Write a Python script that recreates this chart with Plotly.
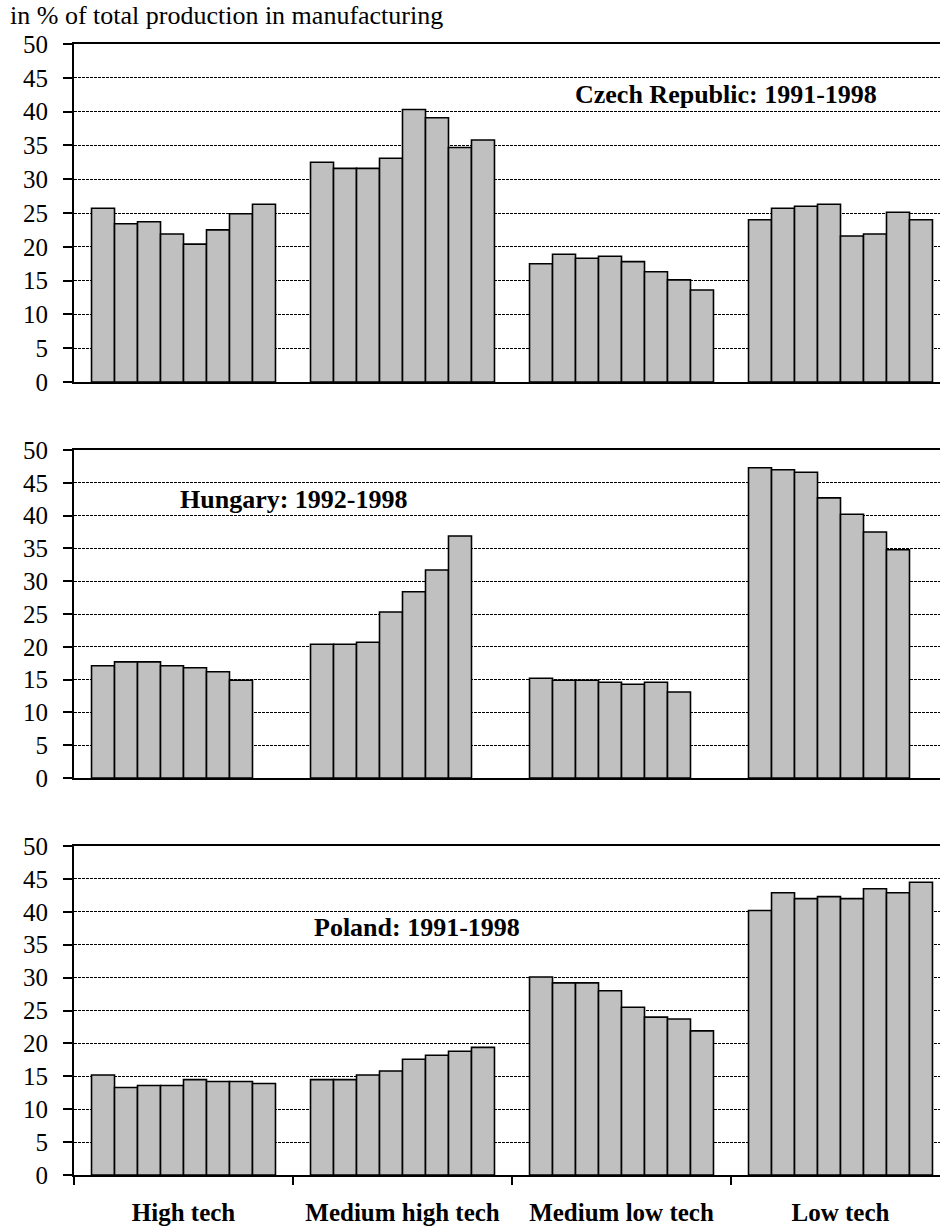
import plotly.graph_objects as go

categories = ["High tech", "Medium high tech", "Medium low tech", "Low tech"]

cz_years = [1991, 1992, 1993, 1994, 1995, 1996, 1997, 1998]
cz_high = [25.7, 23.4, 23.7, 21.9, 20.4, 22.5, 24.9, 26.3]
cz_mhigh = [32.5, 31.6, 31.6, 33.1, 40.3, 39.1, 34.7, 35.8]
cz_mlow = [17.5, 18.9, 18.3, 18.6, 17.8, 16.3, 15.1, 13.6]
cz_low = [24.0, 25.7, 26.0, 26.3, 21.6, 21.9, 25.1, 24.0]

hu_years = [1992, 1993, 1994, 1995, 1996, 1997, 1998]
hu_high = [17.1, 17.7, 17.7, 17.1, 16.8, 16.2, 14.9]
hu_mhigh = [20.4, 20.4, 20.7, 25.3, 28.4, 31.7, 36.9]
hu_mlow = [15.2, 14.9, 14.9, 14.6, 14.3, 14.6, 13.1]
hu_low = [47.3, 47.0, 46.6, 42.7, 40.2, 37.5, 34.8]

pl_years = [1991, 1992, 1993, 1994, 1995, 1996, 1997, 1998]
pl_high = [15.2, 13.3, 13.6, 13.6, 14.5, 14.2, 14.2, 13.9]
pl_mhigh = [14.5, 14.5, 15.2, 15.8, 17.6, 18.2, 18.8, 19.4]
pl_mlow = [30.1, 29.2, 29.2, 28.0, 25.5, 24.0, 23.7, 21.9]
pl_low = [40.2, 42.9, 42.0, 42.3, 42.0, 43.5, 42.9, 44.5]

panel_titles = ["Czech Republic: 1991-1998", "Hungary: 1992-1998", "Poland: 1991-1998"]
y_title = "in % of total production in manufacturing"

panels = [
    (cz_years, [cz_high, cz_mhigh, cz_mlow, cz_low]),
    (hu_years, [hu_high, hu_mhigh, hu_mlow, hu_low]),
    (pl_years, [pl_high, pl_mhigh, pl_mlow, pl_low]),
]

W, H = 940, 1227
FONT = "Liberation Serif, Times New Roman, serif"
BAR_W = 0.105
BAR_START = -0.42

# plot-area pixel extents (top of 50, bottom at 0) for each panel
panel_px = [(44, 382), (450, 778), (846, 1175)]
label_pos = [(2.477, 42.6), (0.505, 42.4), (1.066, 37.6)]

fig = go.Figure()
for p, (years, series) in enumerate(panels):
    ax = "" if p == 0 else str(p + 1)
    for j, yr in enumerate(years):
        fig.add_trace(go.Bar(
            x=categories,
            y=[s[j] for s in series],
            name=str(yr),
            width=BAR_W,
            offset=BAR_START + j * BAR_W,
            marker=dict(color="#C0C0C0", line=dict(color="black", width=1.6)),
            xaxis="x" + ax, yaxis="y" + ax,
            showlegend=False,
        ))

x0 = 74 / W
xr = [-0.5, -0.5 + (W - 74) / 219.0]
layout = dict(
    width=W, height=H,
    margin=dict(l=0, r=0, t=0, b=0),
    paper_bgcolor="white", plot_bgcolor="white",
    barmode="overlay",
    font=dict(family=FONT, color="black"),
    showlegend=False,
)
annotations = []
for p in range(3):
    ax = "" if p == 0 else str(p + 1)
    top, bot = panel_px[p]
    last = p == 2
    layout["xaxis" + ax] = dict(
        domain=[x0, 1], anchor="y" + ax, range=xr, type="category",
        showline=True, linecolor="black", linewidth=2, mirror=True,
        showgrid=False, zeroline=False,
        ticks="outside" if last else "", tickson="boundaries",
        ticklen=8, tickwidth=1.5, tickcolor="black",
        showticklabels=last,
        tickfont=dict(family=FONT, size=25, color="black", weight="bold"),
        ticklabelstandoff=14, automargin=False,
    )
    layout["yaxis" + ax] = dict(
        domain=[1 - bot / H, 1 - top / H], anchor="x" + ax,
        range=[0, 50], dtick=5, tick0=0,
        showline=True, linecolor="black", linewidth=2,
        ticks="outside", ticklen=9, tickwidth=1.5, tickcolor="black",
        tickfont=dict(family=FONT, size=25, color="black"),
        ticklabelstandoff=10,
        showgrid=True, gridcolor="black", gridwidth=1, griddash="3px,1px",
        zeroline=False, automargin=False,
    )
    lx, ly = label_pos[p]
    annotations.append(dict(
        x=lx, y=ly, xref="x" + ax, yref="y" + ax, text=panel_titles[p],
        showarrow=False, font=dict(family=FONT, size=26, color="black", weight="bold"),
        xanchor="center", yanchor="middle",
    ))
annotations.append(dict(
    x=8 / W, y=1 - 15 / H, xref="paper", yref="paper", text=y_title,
    showarrow=False, font=dict(family=FONT, size=26, color="black"),
    xanchor="left", yanchor="middle",
))
layout["annotations"] = annotations
fig.update_layout(**layout)
fig.write_html(
    "out.html",
    config={"displayModeBar": False},
    post_script="document.body.style.margin='0';document.body.style.overflow='hidden';",
)
